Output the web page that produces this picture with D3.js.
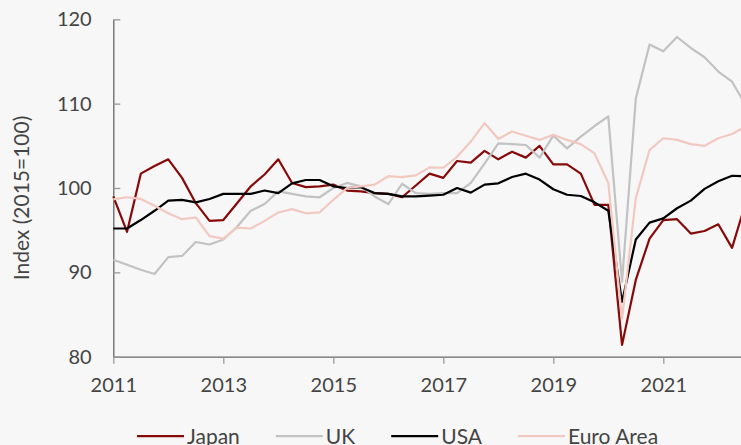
<!DOCTYPE html>
<html>
<head>
<meta charset="utf-8">
<script src="https://cdn.jsdelivr.net/npm/d3@7"></script>
<style>
  html, body { margin: 0; padding: 0; background: #f7f7f7; overflow: hidden; }
  svg { display: block; font-family: Lato, "Open Sans", sans-serif; }
</style>
</head>
<body>
<div id="chart"></div>
<script>
// Quarterly periods, 2011 Q1 onwards
const quarters = d3.range(47).map(i => `${2011 + Math.floor(i / 4)}Q${(i % 4) + 1}`);

const japan = [99.0, 94.8, 101.7, 102.6, 103.4, 101.2, 98.2, 96.1, 96.2, 98.2, 100.2, 101.6,
    103.4, 100.6, 100.1, 100.2, 100.4, 99.7, 99.6, 99.4, 99.3, 98.9, 100.3, 101.7,
    101.2, 103.2, 103.0, 104.4, 103.4, 104.3, 103.6, 105.0, 102.8, 102.8, 101.7, 98.0,
    98.0, 81.4, 89.1, 94.0, 96.2, 96.3, 94.6, 94.9, 95.7, 92.9, 98.3];
const uk = [91.5, 90.9, 90.3, 89.8, 91.8, 91.95, 93.6, 93.3, 93.9, 95.4, 97.3, 98.1,
    99.6, 99.3, 99.0, 98.9, 100.0, 100.6, 100.2, 99.0, 98.1, 100.5, 99.4, 99.3,
    99.4, 99.4, 100.6, 102.9, 105.3, 105.2, 105.1, 103.6, 106.2, 104.7, 106.1, 107.35,
    108.5, 88.9, 110.6, 117.0, 116.2, 117.9, 116.6, 115.5, 113.8, 112.6, 109.8];
const usa = [95.2, 95.2, 96.2, 97.3, 98.5, 98.6, 98.3, 98.7, 99.3, 99.3, 99.3, 99.7,
    99.4, 100.55, 100.95, 100.95, 100.2, 100.0, 100.1, 99.4, 99.3, 99.0, 99.0, 99.1,
    99.2, 100.0, 99.45, 100.4, 100.55, 101.3, 101.7, 101.0, 99.85, 99.2, 99.05, 98.3,
    97.3, 86.5, 93.9, 95.9, 96.4, 97.6, 98.5, 99.9, 100.8, 101.45, 101.4];
const euroArea = [98.65, 98.9, 98.7, 97.9, 97.0, 96.3, 96.5, 94.3, 94.0, 95.3, 95.2, 96.1,
    97.1, 97.5, 97.0, 97.1, 98.6, 100.0, 100.2, 100.4, 101.4, 101.3, 101.5, 102.45,
    102.4, 103.7, 105.5, 107.7, 105.8, 106.7, 106.2, 105.7, 106.3, 105.7, 105.2, 104.1,
    100.6, 84.5, 98.8, 104.5, 105.9, 105.7, 105.2, 105.0, 105.9, 106.4, 107.3];

const xTicks = [2011, 2013, 2015, 2017, 2019, 2021];
const yTicks = [80, 90, 100, 110, 120];

const series = [
    { name: "Japan", values: japan, color: "#860a0a" },
    { name: "UK", values: uk, color: "#c2c2c2" },
    { name: "USA", values: usa, color: "#000000" },
    { name: "Euro Area", values: euroArea, color: "#f1c9c1" },
];

// Dimensions
const width = 741;
const height = 445;
const plotLeft = 113.3, plotTop = 19.3, plotBottom = 356.7;

const toYear = q => +q.slice(0, 4) + (+q.slice(5) - 1) / 4;

const svg = d3.select("#chart")
    .append("svg")
    .attr("width", width)
    .attr("height", height);

const x = d3.scaleLinear()
    .domain([2011, 2023])
    .range([plotLeft, plotLeft + 12 * 55]);

const y = d3.scaleLinear()
    .domain([80, 120])
    .range([plotBottom, plotTop]);

// Axes
const gX = svg.append("g")
    .attr("transform", `translate(0, ${plotBottom})`)
    .call(d3.axisBottom(x).tickValues(xTicks).tickFormat(d3.format("d"))
        .tickSizeInner(7).tickSizeOuter(0).tickPadding(14));

const gY = svg.append("g")
    .attr("transform", `translate(${plotLeft}, 0)`)
    .call(d3.axisLeft(y).tickValues(yTicks)
        .tickSizeInner(-7).tickSizeOuter(0).tickPadding(21.6));

[gX, gY].forEach(g => {
    g.select(".domain").attr("stroke", "#666").attr("stroke-width", 1.3);
    g.selectAll(".tick line").attr("stroke", "#999").attr("stroke-width", 1.3);
    g.selectAll(".tick text")
        .attr("fill", "#444")
        .attr("font-size", "20px")
        .attr("font-family", "Lato, sans-serif");
});

// Y axis title
svg.append("text")
    .attr("transform", `translate(29, 198) rotate(-90)`)
    .attr("text-anchor", "middle")
    .attr("fill", "#444")
    .attr("font-size", "21px")
    .text("Index (2015=100)");

// Lines
const line = d3.line()
    .x((d, i) => x(toYear(quarters[i])))
    .y(d => y(d));

svg.append("g")
    .selectAll("path")
    .data(series)
    .join("path")
    .attr("fill", "none")
    .attr("stroke", d => d.color)
    .attr("stroke-width", 2.2)
    .attr("stroke-linejoin", "round")
    .attr("d", d => line(d.values));

// Legend
const legend = svg.append("g").attr("transform", "translate(137, 436.2)");
let offset = 0;
series.forEach(s => {
    const item = legend.append("g").attr("transform", `translate(${offset}, 0)`);
    item.append("line")
        .attr("x1", 0).attr("x2", 47)
        .attr("stroke", s.color)
        .attr("stroke-width", 2.2);
    const t = item.append("text")
        .attr("x", 50)
        .attr("dy", "0.35em")
        .attr("fill", "#444")
        .attr("font-size", "21px")
        .text(s.name);
    offset += 50 + t.node().getComputedTextLength() + 36;
});
</script>
</body>
</html>
